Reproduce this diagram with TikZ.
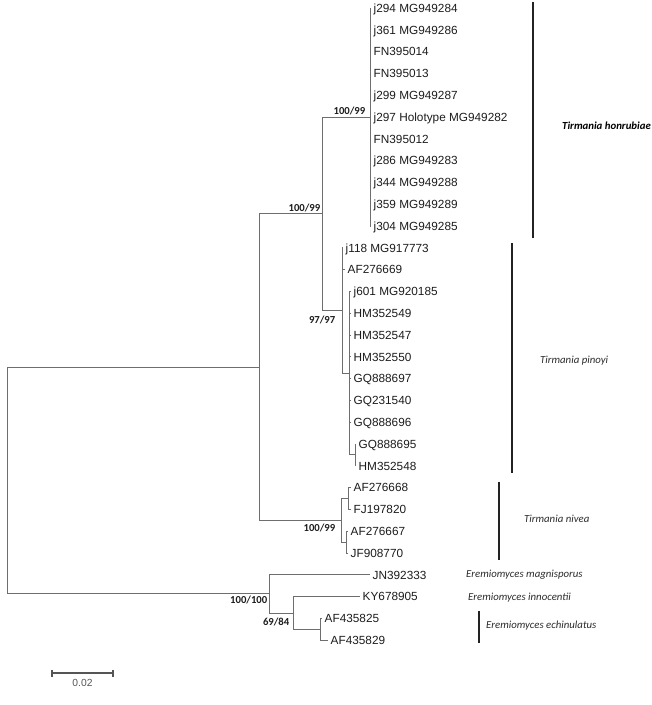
\documentclass[tikz,border=0pt]{standalone}
\usepackage{fontspec}
\setmainfont{Liberation Sans}
\newfontfamily\califont{Carlito}
\usetikzlibrary{positioning,calc}
\definecolor{TreeGray}{HTML}{6E6E6E}
\definecolor{TipInk}{HTML}{1C1C1C}
\definecolor{CladeInk}{HTML}{2B2B2B}
\definecolor{ScaleGray}{HTML}{555555}
\definecolor{BarInk}{HTML}{222222}
\tikzset{
  branch/.style={draw=TreeGray, line width=1pt},
  tiplabel/.style={anchor=west, inner sep=2.5pt, text=TipInk,
                   font=\fontsize{11.8}{14}\selectfont, text height=8.4pt, text depth=0pt},
  support/.style={inner sep=1.5pt, text=TipInk,
                  font=\califont\bfseries\fontsize{10.7}{12}\selectfont},
  cladebar/.style={draw=BarInk, line width=1.1pt},
  cladename/.style={anchor=west, inner sep=0pt, text=CladeInk,
                    font=\califont\itshape\fontsize{10.8}{12}\selectfont},
  scalebar/.style={draw=ScaleGray, line width=1.2pt},
}

\begin{document}
\begin{tikzpicture}[x=1pt, y=-1pt]
  \useasboundingbox (0,0) rectangle (652,705);

  % internal nodes
  \coordinate (root) at (7,480.5);
  \coordinate (T)    at (259,367);
  \coordinate (HP)   at (322,213.7);
  \coordinate (H)    at (370,117);
  \coordinate (P)    at (342,310.4);
  \coordinate (Q)    at (349,373.2);
  \coordinate (R)    at (355,454.9);
  \coordinate (N)    at (341,520.3);
  \coordinate (N1)   at (348,498.5);
  \coordinate (N2)   at (346,542.1);
  \coordinate (E)    at (269,593.9);
  \coordinate (E2)   at (293,613);
  \coordinate (E3)   at (320,629.3);

  \draw[branch] (root) |- (T);
  \draw[branch] (root) |- (E);
  \draw[branch] (T) |- (HP);
  \draw[branch] (T) |- (N);
  \draw[branch] (HP) |- (H);
  \draw[branch] (HP) |- (P);
  \draw[branch] (P) |- (Q);
  \draw[branch] (Q) |- (R);
  \draw[branch] (N) |- (N1);
  \draw[branch] (N) |- (N2);
  \draw[branch] (E) |- (E2);
  \draw[branch] (E2) |- (E3);

  % Tirmania honrubiae tips
  \foreach \lab [count=\i from 0] in {j294 MG949284, j361 MG949286, FN395014, FN395013,
      j299 MG949287, j297 Holotype MG949282, FN395012, j286 MG949283, j344 MG949288,
      j359 MG949289, j304 MG949285} {
    \coordinate (h\i) at (371,8+21.8*\i);
    \draw[branch] (H) |- (h\i);
    \node[tiplabel] (hl\i) at (h\i) {\lab};
  }

  % Tirmania pinoyi tips
  \coordinate (p1) at (343,247.8);
  \coordinate (p2) at (345,269.6);
  \draw[branch] (P) |- (p1);
  \draw[branch] (P) |- (p2);
  \node[tiplabel] (pl1) at (p1) {j118 MG917773};
  \node[tiplabel] (pl2) at (p2) {AF276669};
  \foreach \lab [count=\i from 0] in {j601 MG920185, HM352549, HM352547, HM352550,
      GQ888697, GQ231540, GQ888696} {
    \coordinate (q\i) at (351,291.4+21.8*\i);
    \draw[branch] (Q) |- (q\i);
    \node[tiplabel] (ql\i) at (q\i) {\lab};
  }
  \coordinate (r1) at (356,444);
  \coordinate (r2) at (356,465.8);
  \draw[branch] (R) |- (r1);
  \draw[branch] (R) |- (r2);
  \node[tiplabel] (rl1) at (r1) {GQ888695};
  \node[tiplabel] (rl2) at (r2) {HM352548};

  % Tirmania nivea tips
  \coordinate (n1) at (351,487.6);
  \coordinate (n2) at (351,509.4);
  \coordinate (n3) at (348,531.2);
  \coordinate (n4) at (348,553);
  \draw[branch] (N1) |- (n1);
  \draw[branch] (N1) |- (n2);
  \draw[branch] (N2) |- (n3);
  \draw[branch] (N2) |- (n4);
  \node[tiplabel] (nl1) at (n1) {AF276668};
  \node[tiplabel] (nl2) at (n2) {FJ197820};
  \node[tiplabel] (nl3) at (n3) {AF276667};
  \node[tiplabel] (nl4) at (n4) {JF908770};

  % Eremiomyces tips
  \coordinate (e1) at (370,574.8);
  \coordinate (e2) at (360,596.6);
  \coordinate (e3) at (322,618.4);
  \coordinate (e4) at (328,640.2);
  \draw[branch] (E) |- (e1);
  \draw[branch] (E2) |- (e2);
  \draw[branch] (E3) |- (e3);
  \draw[branch] (E3) |- (e4);
  \node[tiplabel] (el1) at (e1) {JN392333};
  \node[tiplabel] (el2) at (e2) {KY678905};
  \node[tiplabel] (el3) at (e3) {AF435825};
  \node[tiplabel] (el4) at (e4) {AF435829};

  % bootstrap support
  \node[support, anchor=south east, xshift=-3pt] (sH) at (H) {100/99};
  \node[support, anchor=south east] (sHP) at (HP) {100/99};
  \node[support, anchor=north east, xshift=-5pt, yshift=-4pt] (sP) at (P) {97/97};
  \node[support, anchor=north east, xshift=-4pt, yshift=-2pt] (sN) at (N) {100/99};
  \node[support, anchor=north east] (sE) at (E) {100/100};
  \node[support, anchor=north east, xshift=-2pt, yshift=-3pt] (sE2) at (E2) {69/84};

  % clade bars and names
  \coordinate (honT) at (533,2);     \coordinate (honB) at (533,238);
  \coordinate (pinT) at (512,243);   \coordinate (pinB) at (512,473);
  \coordinate (nivT) at (499,482);   \coordinate (nivB) at (499,560);
  \coordinate (echT) at (479,611);   \coordinate (echB) at (479,643);
  \draw[cladebar] (honT) -- (honB);
  \draw[cladebar] (pinT) -- (pinB);
  \draw[cladebar] (nivT) -- (nivB);
  \draw[cladebar] (echT) -- (echB);
  \node[cladename, font=\califont\bfseries\itshape\fontsize{10.8}{12}\selectfont, text=black]
        (honName) at (562,126) {Tirmania honrubiae};
  \node[cladename] (pinName) at (540,361) {Tirmania pinoyi};
  \node[cladename] (nivName) at (524,519) {Tirmania nivea};
  \node[cladename] (magName) at (466,575) {Eremiomyces magnisporus};
  \node[cladename] (innName) at (468,598) {Eremiomyces innocentii};
  \node[cladename] (echName) at (486,626) {Eremiomyces echinulatus};

  % scale bar
  \coordinate (sbL) at (52,673);
  \coordinate (sbR) at (113,673);
  \coordinate (sbM) at ($(sbL)!0.5!(sbR)$);
  \draw[scalebar] (sbL) -- (sbR);
  \draw[scalebar] ($(sbL)+(0,-3.5)$) -- ($(sbL)+(0,3.5)$);
  \draw[scalebar] ($(sbR)+(0,-3.5)$) -- ($(sbR)+(0,3.5)$);
  \node[inner sep=0pt, text=ScaleGray, font=\fontsize{10.3}{12}\selectfont, below=6pt of sbM]
        (sbLab) {0.02};
\end{tikzpicture}
\end{document}
